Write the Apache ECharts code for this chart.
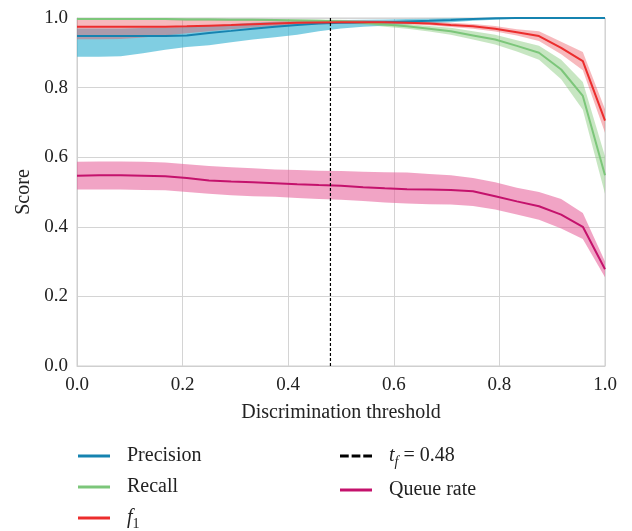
<!DOCTYPE html>
<html>
<head>
<meta charset="utf-8">
<script src="https://cdn.jsdelivr.net/npm/echarts@6/dist/echarts.min.js"></script>
<style>html,body{margin:0;padding:0;background:#fff}#c{width:632px;height:531px}</style>
</head>
<body>
<div id="c"></div>
<script>
// Discrimination thresholds
const thresholds = [0, 0.042, 0.083, 0.125, 0.167, 0.208, 0.25, 0.292, 0.333, 0.375, 0.417, 0.458, 0.5, 0.542, 0.583, 0.625, 0.667, 0.708, 0.75, 0.792, 0.833, 0.875, 0.917, 0.958, 1.0];

const precision    = [0.948, 0.948, 0.948, 0.948, 0.948, 0.950, 0.957, 0.963, 0.969, 0.975, 0.980, 0.984, 0.986, 0.987, 0.988, 0.990, 0.992, 0.994, 0.997, 0.999, 1.0, 1.0, 1.0, 1.0, 1.0];
const precisionLo  = [0.889, 0.889, 0.890, 0.899, 0.909, 0.917, 0.922, 0.930, 0.938, 0.945, 0.952, 0.962, 0.970, 0.975, 0.978, 0.982, 0.985, 0.988, 0.992, 0.995, 0.998, 1.0, 1.0, 1.0, 1.0];
const precisionHi  = [0.970, 0.970, 0.970, 0.971, 0.972, 0.974, 0.978, 0.982, 0.986, 0.989, 0.991, 0.993, 0.994, 0.995, 0.996, 0.997, 0.998, 0.999, 1.0, 1.0, 1.0, 1.0, 1.0, 1.0, 1.0];

const recall       = [0.997, 0.997, 0.997, 0.997, 0.997, 0.996, 0.996, 0.995, 0.995, 0.994, 0.993, 0.992, 0.990, 0.987, 0.981, 0.976, 0.969, 0.962, 0.950, 0.938, 0.920, 0.900, 0.852, 0.776, 0.548];
const recallLo     = [0.994, 0.994, 0.994, 0.994, 0.994, 0.993, 0.993, 0.992, 0.992, 0.991, 0.989, 0.988, 0.985, 0.981, 0.975, 0.969, 0.961, 0.952, 0.938, 0.924, 0.904, 0.880, 0.824, 0.736, 0.495];
const recallHi     = [1.0, 1.0, 1.0, 1.0, 1.0, 0.999, 0.999, 0.998, 0.998, 0.997, 0.997, 0.996, 0.995, 0.993, 0.987, 0.983, 0.977, 0.972, 0.962, 0.952, 0.936, 0.920, 0.880, 0.816, 0.603];

const f1           = [0.975, 0.975, 0.975, 0.975, 0.975, 0.976, 0.978, 0.980, 0.982, 0.984, 0.986, 0.987, 0.988, 0.988, 0.988, 0.986, 0.984, 0.980, 0.976, 0.969, 0.959, 0.948, 0.914, 0.876, 0.705];
const f1Lo         = [0.939, 0.939, 0.940, 0.944, 0.950, 0.956, 0.962, 0.968, 0.973, 0.977, 0.980, 0.982, 0.984, 0.984, 0.984, 0.982, 0.979, 0.974, 0.969, 0.961, 0.950, 0.934, 0.896, 0.850, 0.670];
const f1Hi         = [0.994, 0.994, 0.994, 0.994, 0.994, 0.994, 0.994, 0.994, 0.994, 0.994, 0.994, 0.994, 0.993, 0.993, 0.992, 0.991, 0.989, 0.986, 0.983, 0.977, 0.968, 0.962, 0.932, 0.902, 0.738];

const queueRate    = [0.547, 0.548, 0.548, 0.547, 0.545, 0.540, 0.533, 0.530, 0.528, 0.525, 0.522, 0.520, 0.518, 0.514, 0.511, 0.508, 0.507, 0.506, 0.502, 0.488, 0.473, 0.459, 0.435, 0.400, 0.278];
const queueRateLo  = [0.507, 0.507, 0.507, 0.506, 0.505, 0.500, 0.495, 0.491, 0.488, 0.486, 0.483, 0.480, 0.478, 0.474, 0.470, 0.467, 0.465, 0.464, 0.460, 0.450, 0.435, 0.420, 0.395, 0.365, 0.255];
const queueRateHi  = [0.587, 0.588, 0.588, 0.587, 0.585, 0.580, 0.575, 0.571, 0.568, 0.565, 0.563, 0.561, 0.560, 0.558, 0.557, 0.556, 0.552, 0.548, 0.540, 0.528, 0.512, 0.500, 0.480, 0.440, 0.300];

const thresholdLine = [[0.48, 0], [0.48, 1]];

const FONT = 'Liberation Serif';

function bandSeries(lo, hi, color) {
  return {
    type: 'custom',
    silent: true,
    data: thresholds.map((x, i) => [x, lo[i], hi[i]]),
    encode: { x: 0, y: [1, 2] },
    renderItem: function (params, api) {
      if (params.dataIndex !== 0) return null;
      const pts = [];
      for (let i = 0; i < thresholds.length; i++) pts.push(api.coord([thresholds[i], hi[i]]));
      for (let i = thresholds.length - 1; i >= 0; i--) pts.push(api.coord([thresholds[i], lo[i]]));
      return { type: 'polygon', shape: { points: pts }, style: { fill: color } };
    },
    z: 1
  };
}

function lineSeries(name, vals, color, width) {
  return {
    name: name, type: 'line', color: color,
    data: thresholds.map((x, i) => [x, vals[i]]),
    showSymbol: false, symbol: 'none',
    lineStyle: { color: color, width: width },
    z: 3
  };
}

const richStyles = {
  n: { fontFamily: FONT, fontSize: 20, lineHeight: 20, verticalAlign: 'top' },
  i: { fontFamily: FONT, fontSize: 20, fontStyle: 'italic', lineHeight: 20, verticalAlign: 'top' },
  s: { fontFamily: FONT, fontSize: 14, fontStyle: 'italic', lineHeight: 12, padding: [9, 0, 0, 0], verticalAlign: 'top' },
  d: { fontFamily: FONT, fontSize: 14, lineHeight: 12, padding: [9, 0, 0, 0], verticalAlign: 'top' }
};

const chart = echarts.init(document.getElementById('c'));
chart.setOption({
  animation: false,
  backgroundColor: '#fff',
  grid: { left: 77, right: 27, top: 18, bottom: 165, show: true, borderColor: '#cfcfcf', borderWidth: 1 },
  xAxis: {
    type: 'value', min: 0, max: 1, interval: 0.2,
    name: 'Discrimination threshold', nameLocation: 'middle', nameGap: 37,
    nameTextStyle: { fontFamily: FONT, fontSize: 20, color: '#222' },
    axisLine: { show: true, lineStyle: { color: '#cfcfcf' } },
    axisTick: { show: false },
    axisLabel: { fontFamily: FONT, fontSize: 19, color: '#222', margin: 10, formatter: v => v.toFixed(1) },
    splitLine: { show: true, lineStyle: { color: '#d4d4d4', width: 1 } }
  },
  yAxis: {
    type: 'value', min: 0, max: 1, interval: 0.2,
    name: 'Score', nameLocation: 'middle', nameGap: 43,
    nameTextStyle: { fontFamily: FONT, fontSize: 20, color: '#222' },
    axisLine: { show: true, lineStyle: { color: '#cfcfcf' } },
    axisTick: { show: false },
    axisLabel: { fontFamily: FONT, fontSize: 19, color: '#222', margin: 9, formatter: v => v.toFixed(1) },
    splitLine: { show: true, lineStyle: { color: '#d4d4d4', width: 1 } }
  },
  legend: [
    {
      left: 78, top: 446, padding: 0, orient: 'vertical', itemWidth: 32, itemHeight: 3, itemGap: 11,
      data: [{ name: 'Precision', icon: 'rect' }, { name: 'Recall', icon: 'rect' }, { name: 'f1', icon: 'rect' }],
      formatter: n => n === 'f1' ? '{i|f}{d|1}' : '{n|' + n + '}',
      textStyle: { fontFamily: FONT, fontSize: 20, color: '#222', padding: [0, 0, 0, 12], rich: richStyles }
    },
    {
      left: 340, top: 446, padding: 0, orient: 'vertical', itemWidth: 32, itemHeight: 3, itemGap: 11,
      data: [{ name: 'tf', icon: 'path://M0,0H9V3H0Z M12,0H21V3H12Z M24,0H33V3H24Z' }, { name: 'Queue rate', icon: 'rect' }],
      formatter: n => n === 'tf' ? '{i|t}{s|f}{n| = 0.48}' : '{n|' + n + '}',
      textStyle: { fontFamily: FONT, fontSize: 20, color: '#222', padding: [0, 0, 0, 12], rich: richStyles }
    }
  ],
  series: [
    bandSeries(precisionLo, precisionHi, 'rgba(60,180,210,0.65)'),
    bandSeries(recallLo, recallHi, 'rgba(130,200,120,0.45)'),
    bandSeries(f1Lo, f1Hi, 'rgba(235,80,90,0.40)'),
    bandSeries(queueRateLo, queueRateHi, 'rgba(230,90,150,0.55)'),
    lineSeries('Precision', precision, '#1583b0', 2),
    lineSeries('Recall', recall, '#7cc67a', 2),
    lineSeries('f1', f1, '#ec2d2d', 2),
    lineSeries('Queue rate', queueRate, '#c4126c', 2),
    {
      name: 'tf', type: 'line', color: '#000',
      data: thresholdLine, showSymbol: false, symbol: 'none',
      lineStyle: { color: '#000', width: 1.2, type: [3, 2] }, z: 4
    }
  ]
});
</script>
</body>
</html>
